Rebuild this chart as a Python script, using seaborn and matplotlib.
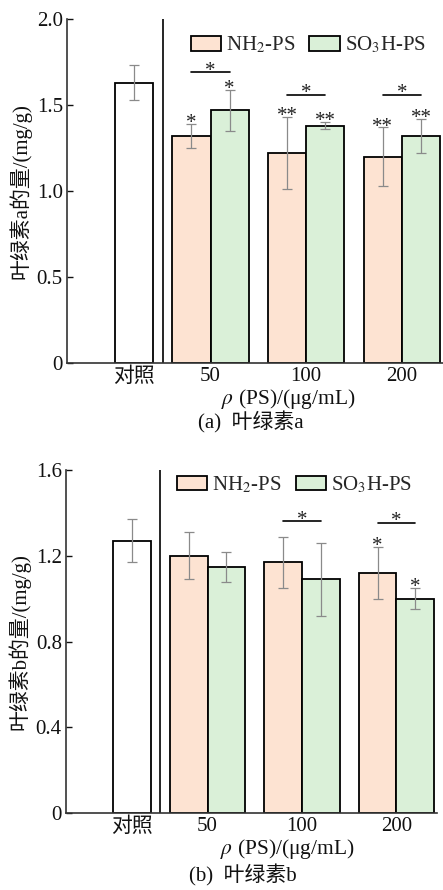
import matplotlib
matplotlib.use('Agg')
import matplotlib.pyplot as plt
from matplotlib.patches import Patch
import seaborn as sns
import pandas as pd
import numpy as np

# values
conc_labels = ['50', '100', '200']
ctrl_label = '对照'
series_names = ['NH2-PS', 'SO3H-PS']
legend_labels = ['NH$_2$-PS', 'SO$_3$H-PS']
series_colors = ['#FDE3D2', '#DAF0D8']

# (a) chlorophyll a
chla_ctrl = 1.63
chla_ctrl_sd = 0.10
chla_nh2 = [1.32, 1.22, 1.20]
chla_nh2_sd = [0.07, 0.21, 0.17]
chla_so3h = [1.47, 1.38, 1.32]
chla_so3h_sd = [0.12, 0.02, 0.10]
chla_nh2_sig = ['*', '**', '**']
chla_so3h_sig = ['*', '**', '**']
chla_pair_sig = ['*', '*', '*']
chla_pair_y = [1.69, 1.56, 1.56]
chla_yticks = [0, 0.5, 1.0, 1.5, 2.0]
chla_yticklabels = ['0', '0.5', '1.0', '1.5', '2.0']

# (b) chlorophyll b
chlb_ctrl = 1.27
chlb_ctrl_sd = 0.10
chlb_nh2 = [1.20, 1.17, 1.12]
chlb_nh2_sd = [0.11, 0.12, 0.12]
chlb_so3h = [1.15, 1.09, 1.00]
chlb_so3h_sd = [0.07, 0.17, 0.05]
chlb_nh2_sig = ['', '', '*']
chlb_so3h_sig = ['', '', '*']
chlb_pair_sig = ['', '*', '*']
chlb_pair_y = [None, 1.36, 1.355]
chlb_yticks = [0, 0.4, 0.8, 1.2, 1.6]
chlb_yticklabels = ['0', '0.4', '0.8', '1.2', '1.6']

CTRL_POS = 0.2
BAR_W = 0.4

sns.set_theme(style='white')
plt.rcParams['font.family'] = ['Liberation Serif', 'Noto Sans CJK SC']
plt.rcParams['mathtext.fontset'] = 'stix'
plt.rcParams['axes.unicode_minus'] = False


def draw_panel(ax, ctrl, ctrl_sd, nh2, nh2_sd, so3h, so3h_sd,
               sig_nh2, sig_so3h, pair_sig, pair_y,
               yticks, yticklabels, ylabel, xlabel_x, caption, caption_x, caption_y,
               legend_xy):
    pos = np.arange(1, len(conc_labels) + 1)
    df = pd.DataFrame({
        'pos': np.concatenate([pos, pos]),
        'value': list(nh2) + list(so3h),
        'series': np.repeat(series_names, len(pos)),
    })
    sns.barplot(data=df, x='pos', y='value', hue='series', hue_order=series_names,
                palette=series_colors, native_scale=True, dodge=True, width=2 * BAR_W,
                saturation=1, errorbar=None, edgecolor='black', linewidth=1.3,
                legend=False, ax=ax)
    sns.barplot(x=[CTRL_POS], y=[ctrl], native_scale=True, width=BAR_W, orient='x',
                color='white', saturation=1, errorbar=None, edgecolor='black',
                linewidth=1.3, ax=ax)

    ymax = yticks[-1]
    err_kw = dict(fmt='none', ecolor='#8a8a8a', elinewidth=0.9, capsize=3.5, capthick=0.9)
    ax.errorbar([CTRL_POS], [ctrl], yerr=[ctrl_sd], **err_kw)
    for off, vals, sds, sigs in [(-BAR_W / 2, nh2, nh2_sd, sig_nh2),
                                 (BAR_W / 2, so3h, so3h_sd, sig_so3h)]:
        ax.errorbar(pos + off, vals, yerr=sds, **err_kw)
        for x, v, s, sig in zip(pos + off, vals, sds, sigs):
            if sig:
                ax.annotate(sig, (x, v + s), xytext=(0, -3), textcoords='offset points',
                            ha='center', va='baseline', fontsize=15, color='#222222')

    # pairwise brackets between the two PS types
    for x, sig, y in zip(pos, pair_sig, pair_y):
        if not sig:
            continue
        ax.plot([x - BAR_W / 2, x + BAR_W / 2], [y, y], color='black', lw=1.2)
        ax.annotate(sig, (x, y), xytext=(0, -2.5), textcoords='offset points',
                    ha='center', va='baseline', fontsize=15, color='#222222')

    ax.axvline(0.5, color='black', lw=1.2)

    ax.set_xlim(-0.5, 3.43)
    ax.set_ylim(0, ymax)
    ax.set_xticks([CTRL_POS] + list(pos))
    ax.set_xticklabels([ctrl_label] + conc_labels)
    ax.set_yticks(yticks)
    ax.set_yticklabels(yticklabels)
    ax.tick_params(axis='x', length=0, pad=3, labelsize=15, colors='#111111')
    ax.tick_params(axis='y', direction='in', length=4, width=1, pad=3,
                   labelsize=15, colors='#111111', left=True)
    ax.set_xlabel('')
    ax.set_ylabel(ylabel, fontsize=15, color='#111111')
    ax.yaxis.set_label_coords(-0.095, 0.5)

    for side in ['top', 'right']:
        ax.spines[side].set_visible(False)
    for side in ['left', 'bottom']:
        ax.spines[side].set_color('#333333')
        ax.spines[side].set_linewidth(1.2)

    ax.text(xlabel_x, -0.105, r'$\rho$ (PS)/(μg/mL)', transform=ax.transAxes,
            ha='center', va='center', fontsize=15.5, color='#111111')
    ax.text(caption_x, caption_y, caption, transform=ax.transAxes,
            ha='center', va='center', fontsize=15, color='#111111')

    handles = [Patch(facecolor=c, edgecolor='black', linewidth=1.3) for c in series_colors]
    ax.legend(handles, legend_labels, loc='center', bbox_to_anchor=legend_xy, ncol=2,
              frameon=False, fontsize=15, handlelength=1.45, handleheight=0.7,
              handletextpad=0.25, columnspacing=0.65, borderpad=0.2)


fig = plt.figure(figsize=(4.43, 8.90), dpi=100)
ax_a = fig.add_axes([0.1512, 0.5921, 0.8488, 0.3865])
ax_b = fig.add_axes([0.1490, 0.0862, 0.8375, 0.3857])

draw_panel(ax_a, chla_ctrl, chla_ctrl_sd, chla_nh2, chla_nh2_sd, chla_so3h, chla_so3h_sd,
           chla_nh2_sig, chla_so3h_sig, chla_pair_sig, chla_pair_y,
           chla_yticks, chla_yticklabels, '叶绿素a的量/(mg/g)', 0.588,
           '(a)  叶绿素a', 0.49, -0.172, (0.642, 0.924))
draw_panel(ax_b, chlb_ctrl, chlb_ctrl_sd, chlb_nh2, chlb_nh2_sd, chlb_so3h, chlb_so3h_sd,
           chlb_nh2_sig, chlb_so3h_sig, chlb_pair_sig, chlb_pair_y,
           chlb_yticks, chlb_yticklabels, '叶绿素b的量/(mg/g)', 0.598,
           '(b)  叶绿素b', 0.477, -0.18, (0.616, 0.956))

fig.savefig('out.png', dpi=100, facecolor='white')
